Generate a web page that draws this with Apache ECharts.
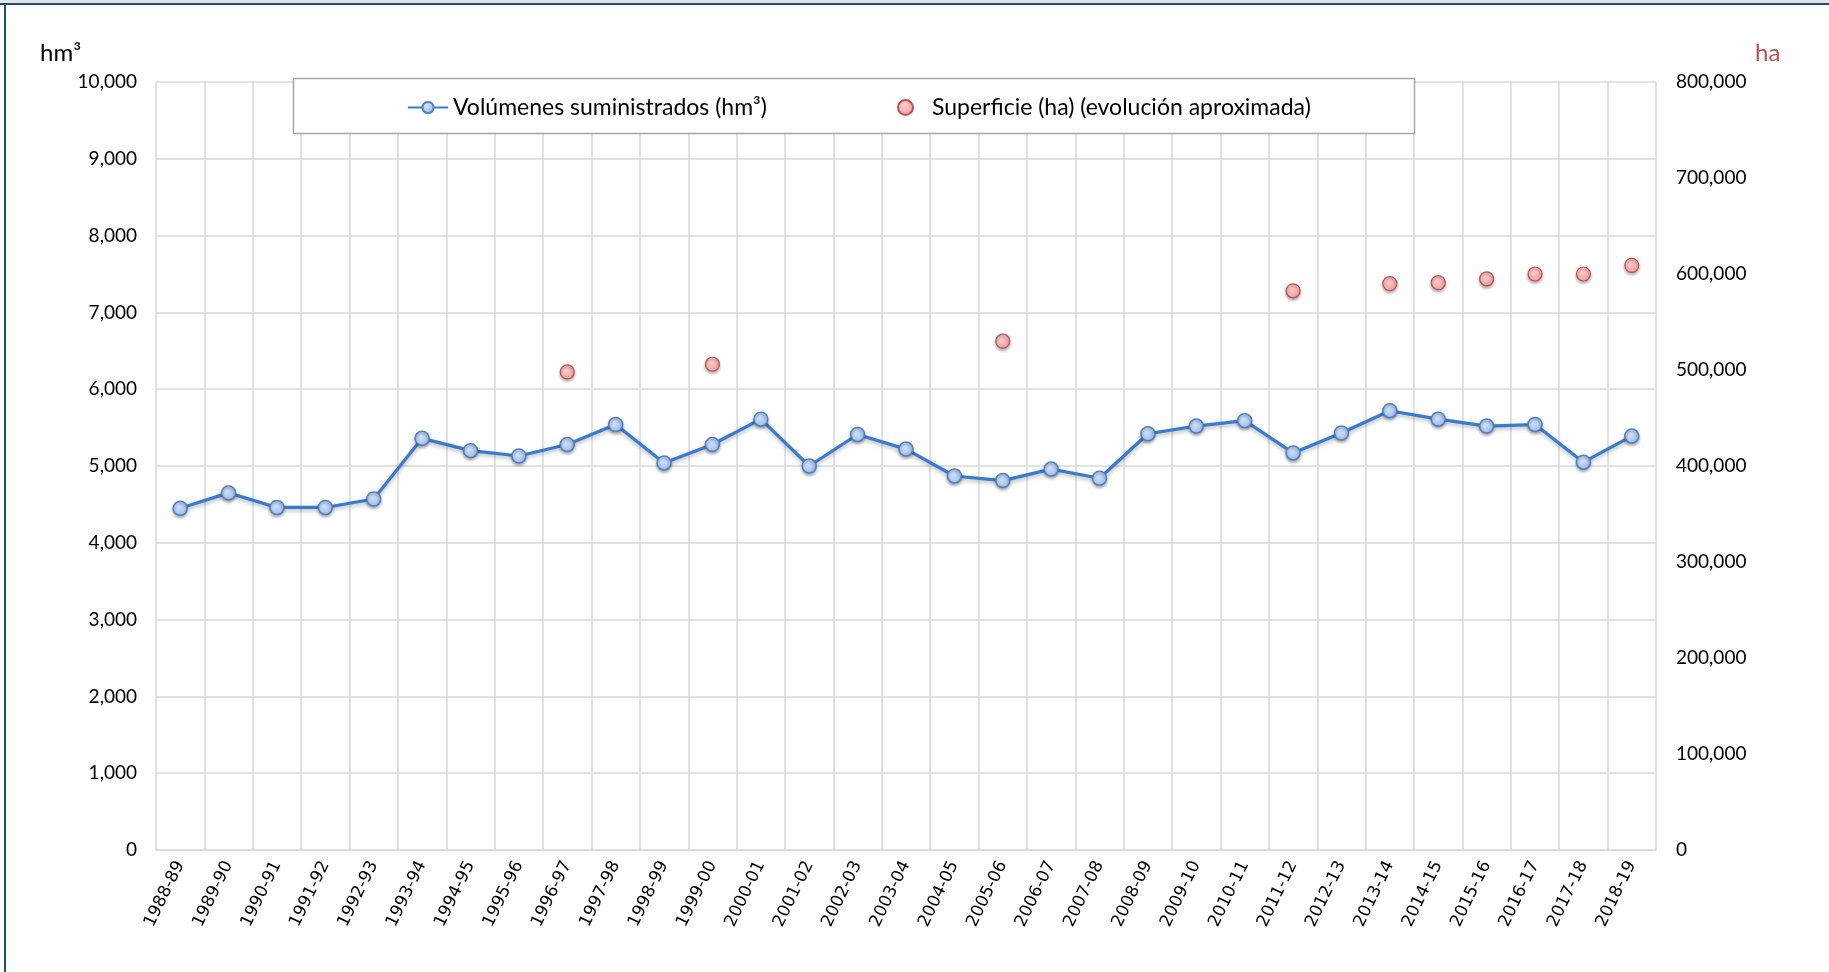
<!DOCTYPE html>
<html>
<head>
<meta charset="utf-8">
<style>html,body{margin:0;padding:0;background:#fff;}#c{width:1829px;height:972px;}</style>
<script src="https://cdn.jsdelivr.net/npm/echarts@6/dist/echarts.min.js"></script>
</head>
<body>
<div id="c"></div>
<script>
var categories = ['1988-89','1989-90','1990-91','1991-92','1992-93','1993-94','1994-95','1995-96','1996-97','1997-98','1998-99','1999-00','2000-01','2001-02','2002-03','2003-04','2004-05','2005-06','2006-07','2007-08','2008-09','2009-10','2010-11','2011-12','2012-13','2013-14','2014-15','2015-16','2016-17','2017-18','2018-19'];
var volumes = [4450,4650,4460,4460,4570,5360,5200,5130,5280,5540,5040,5280,5610,5000,5410,5220,4870,4810,4960,4840,5420,5520,5590,5170,5430,5720,5610,5520,5540,5050,5390];
var surface = [null,null,null,null,null,null,null,null,498000,null,null,506000,null,null,null,null,null,530000,null,null,null,null,null,582500,null,590000,591000,595000,600000,600000,609000];
var leftTicks = {min:0, max:10000, interval:1000};
var rightTicks = {min:0, max:800000, interval:100000};
var nameVol = 'Volúmenes suministrados (hm³)';
var nameSup = 'Superficie (ha) (evolución aproximada)';

function fmt(v){ return v.toString().replace(/\B(?=(\d{3})+(?!\d))/g, ','); }
var FONT = 'Lato';
var chart = echarts.init(document.getElementById('c'), null, {renderer:'canvas'});
chart.setOption({
  backgroundColor:'#ffffff',
  animation:false,
  graphic:[
    {type:'rect', shape:{x:0,y:0,width:1829,height:3}, style:{fill:'#e4e4e4'}, silent:true},
    {type:'line', shape:{x1:0,y1:4,x2:1829,y2:4}, style:{stroke:'#1f4e79',lineWidth:2}, silent:true},
    {type:'line', shape:{x1:5,y1:4,x2:5,y2:972}, style:{stroke:'#1f4e79',lineWidth:2}, silent:true},
    {type:'rect', shape:{x:293.5,y:78.5,width:1121,height:55}, style:{fill:'#ffffff',stroke:'#a6a6a6',lineWidth:1.5}, z:5},
    {type:'text', left:40, top:41, style:{text:'hm³', font:'24px Lato', fill:'#000'}, z:6},
    {type:'text', left:1755, top:41, style:{text:'ha', font:'24px Lato', fill:'#c0504d'}, z:6}
  ],
  legend:[
    {data:[nameVol], left:402, top:91, itemWidth:40, itemHeight:14, z:10,
     textStyle:{fontFamily:FONT, fontSize:23, color:'#000'}},
    {data:[{name:nameSup, icon:'circle'}], left:892, top:91, itemWidth:15, itemHeight:15, z:10,
     textStyle:{fontFamily:FONT, fontSize:23, color:'#000', padding:[0,0,0,14]}}
  ],
  grid:{left:156, right:173, top:82, bottom:122, containLabel:false},
  xAxis:{
    type:'category', data:categories, boundaryGap:true,
    axisTick:{show:false},
    axisLine:{lineStyle:{color:'#d9d9d9', width:1.5}},
    splitLine:{show:true, interval:0, lineStyle:{color:'#d9d9d9', width:1.5}},
    axisLabel:{interval:0, rotate:64, margin:12, fontFamily:'DejaVu Sans', fontSize:17, color:'#000'}
  },
  yAxis:[
    {type:'value', min:leftTicks.min, max:leftTicks.max, interval:leftTicks.interval, position:'left',
     axisLine:{show:false}, axisTick:{show:false},
     splitLine:{show:true, lineStyle:{color:'#d9d9d9', width:1.5}},
     axisLabel:{margin:19, fontFamily:FONT, fontSize:19, color:'#000', formatter:fmt}},
    {type:'value', min:rightTicks.min, max:rightTicks.max, interval:rightTicks.interval, position:'right',
     axisLine:{show:false}, axisTick:{show:false}, splitLine:{show:false},
     axisLabel:{margin:20, fontFamily:FONT, fontSize:19, color:'#000', formatter:fmt}}
  ],
  series:[
    {name:nameVol, type:'line', data:volumes, yAxisIndex:0, symbol:'circle', symbolSize:14,
     lineStyle:{color:'#3a7bd0', width:3.2, shadowColor:'rgba(0,0,0,0.3)', shadowBlur:4, shadowOffsetY:2},
     itemStyle:{color:new echarts.graphic.RadialGradient(0.4,0.35,0.7,[{offset:0,color:'#d6e4fb'},{offset:1,color:'#98b9ee'}]),
       borderColor:'#4f81bd', borderWidth:1.5, shadowColor:'rgba(0,0,0,0.3)', shadowBlur:3, shadowOffsetY:2},
     z:3},
    {name:nameSup, type:'scatter', data:surface, yAxisIndex:1, symbol:'circle', symbolSize:14,
     itemStyle:{color:new echarts.graphic.RadialGradient(0.4,0.35,0.7,[{offset:0,color:'#fcd0d0'},{offset:1,color:'#f09a9a'}]),
       borderColor:'#c0504d', borderWidth:1.2, shadowColor:'rgba(0,0,0,0.3)', shadowBlur:3, shadowOffsetY:2, opacity:1},
     z:3}
  ]
});
</script>
</body>
</html>
